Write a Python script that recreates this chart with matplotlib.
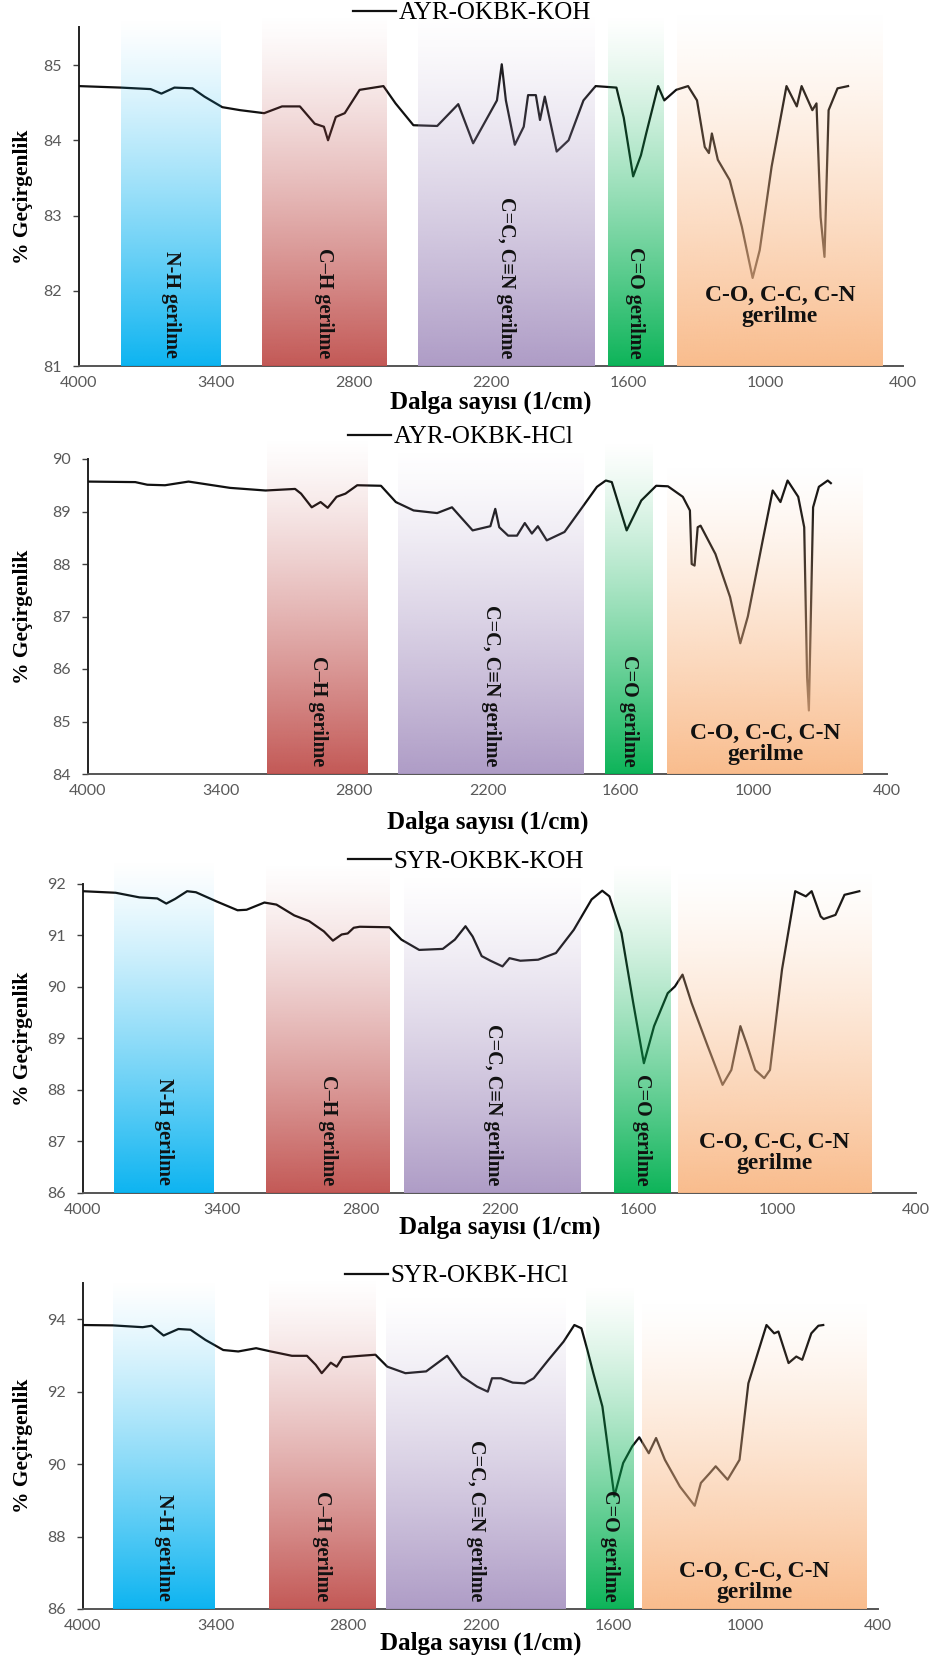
import numpy as np
import matplotlib
matplotlib.use("Agg")
import matplotlib.pyplot as plt
from matplotlib.colors import to_rgb

# ---------------- FTIR spectra (wavenumber in 1/cm, transmittance %) ----------------
wn1 = [4000, 3817, 3687, 3640, 3583, 3504, 3452, 3374, 3296, 3191, 3113, 3035, 2970, 2930,
       2912, 2878, 2839, 2774, 2670, 2617, 2539, 2435, 2343, 2278, 2174, 2153, 2135, 2096,
       2057, 2038, 2004, 1986, 1965, 1913, 1861, 1796, 1743, 1652, 1620, 1579, 1545, 1522,
       1470, 1443, 1391, 1339, 1300, 1266, 1248, 1235, 1209, 1157, 1104, 1057, 1026, 974,
       909, 864, 843, 796, 778, 760, 743, 725, 686, 640]
tr1 = [84.72, 84.70, 84.68, 84.62, 84.70, 84.69, 84.58, 84.44, 84.40, 84.36, 84.45, 84.45,
       84.22, 84.18, 84.00, 84.31, 84.36, 84.67, 84.72, 84.49, 84.20, 84.19, 84.48, 83.96,
       84.53, 85.01, 84.53, 83.94, 84.18, 84.60, 84.60, 84.27, 84.58, 83.85, 84.00, 84.53,
       84.72, 84.70, 84.30, 83.52, 83.80, 84.09, 84.72, 84.53, 84.67, 84.72, 84.53, 83.91,
       83.83, 84.09, 83.74, 83.47, 82.85, 82.17, 82.54, 83.65, 84.72, 84.45, 84.72, 84.40,
       84.49, 82.98, 82.45, 84.40, 84.69, 84.72]

wn2 = [4000, 3787, 3733, 3653, 3547, 3360, 3200, 3067, 3040, 2992, 2952, 2920, 2880, 2840,
       2787, 2680, 2613, 2533, 2427, 2360, 2320, 2267, 2187, 2165, 2147, 2107, 2067, 2032,
       2000, 1973, 1933, 1853, 1773, 1707, 1667, 1640, 1573, 1507, 1440, 1387, 1320, 1288,
       1280, 1267, 1253, 1240, 1173, 1107, 1061, 1027, 960, 915, 880, 848, 800, 773, 760,
       752, 733, 707, 667, 653]
tr2 = [89.57, 89.56, 89.51, 89.50, 89.57, 89.45, 89.40, 89.43, 89.34, 89.08, 89.18, 89.07,
       89.28, 89.34, 89.50, 89.49, 89.18, 89.02, 88.97, 89.08, 88.89, 88.64, 88.72, 89.05,
       88.70, 88.54, 88.54, 88.78, 88.58, 88.72, 88.45, 88.61, 89.08, 89.47, 89.59, 89.56,
       88.64, 89.21, 89.49, 89.48, 89.28, 89.02, 88.00, 87.97, 88.70, 88.73, 88.19, 87.37,
       86.49, 87.00, 88.45, 89.40, 89.18, 89.59, 89.28, 88.70, 85.84, 85.21, 89.08, 89.47,
       89.59, 89.54]

wn3 = [4000, 3859, 3756, 3679, 3640, 3602, 3550, 3512, 3422, 3332, 3293, 3216, 3164, 3087,
       3023, 2959, 2920, 2882, 2856, 2830, 2804, 2676, 2624, 2547, 2445, 2393, 2347, 2316,
       2277, 2239, 2187, 2157, 2110, 2033, 1956, 1879, 1802, 1756, 1725, 1673, 1622, 1576,
       1532, 1473, 1442, 1409, 1370, 1300, 1236, 1198, 1159, 1133, 1095, 1056, 1031, 979,
       922, 876, 851, 812, 799, 748, 709, 645]
tr3 = [91.86, 91.83, 91.74, 91.72, 91.62, 91.71, 91.86, 91.84, 91.66, 91.49, 91.50, 91.64,
       91.60, 91.39, 91.28, 91.08, 90.90, 91.02, 91.04, 91.15, 91.17, 91.16, 90.92, 90.72,
       90.74, 90.92, 91.18, 90.98, 90.60, 90.51, 90.40, 90.56, 90.51, 90.53, 90.66, 91.11,
       91.70, 91.87, 91.76, 91.05, 89.69, 88.52, 89.24, 89.88, 90.01, 90.24, 89.69, 88.85,
       88.10, 88.39, 89.24, 88.91, 88.39, 88.23, 88.39, 90.34, 91.86, 91.76, 91.86, 91.37,
       91.32, 91.40, 91.79, 91.86]

wn4 = [4000, 3865, 3730, 3689, 3635, 3568, 3513, 3446, 3365, 3297, 3216, 3149, 3054, 2986,
       2946, 2919, 2878, 2851, 2824, 2743, 2676, 2622, 2540, 2446, 2351, 2284, 2216, 2167,
       2148, 2108, 2054, 2000, 1959, 1892, 1824, 1775, 1743, 1716, 1689, 1648, 1594, 1554,
       1513, 1481, 1438, 1405, 1365, 1297, 1230, 1202, 1162, 1135, 1081, 1027, 987, 905,
       870, 851, 805, 770, 743, 702, 670, 648]
tr4 = [93.84, 93.83, 93.78, 93.82, 93.55, 93.73, 93.71, 93.43, 93.15, 93.11, 93.20, 93.11,
       92.99, 92.99, 92.74, 92.51, 92.80, 92.69, 92.95, 92.99, 93.02, 92.69, 92.51, 92.56,
       92.99, 92.42, 92.14, 92.00, 92.37, 92.37, 92.25, 92.23, 92.37, 92.88, 93.38, 93.84,
       93.75, 93.15, 92.51, 91.59, 89.11, 90.03, 90.49, 90.74, 90.30, 90.72, 90.12, 89.38,
       88.85, 89.48, 89.75, 89.94, 89.57, 90.12, 92.23, 93.84, 93.61, 93.66, 92.79, 92.97,
       92.88, 93.61, 93.82, 93.84]

sample_names = ["AYR-OKBK-KOH", "AYR-OKBK-HCl", "SYR-OKBK-KOH", "SYR-OKBK-HCl"]

# ---------------- functional-group regions (wavenumber ranges, 1/cm) ----------------
band_keys = ["NH", "CH", "CC", "CO", "fp"]
band_labels = {"NH": "N-H gerilme", "CH": "C\u2013H gerilme", "CC": "C=C, C\u2261N gerilme",
               "CO": "C=O gerilme", "fp": "C-O, C-C, C-N\ngerilme"}
band_colors = {"NH": "#00B0F0", "CH": "#C0504D", "CC": "#AA97C3", "CO": "#00B050", "fp": "#F9B987"}

bands1 = {"NH": (3815, 3380), "CH": (3200, 2657), "CC": (2521, 1749), "CO": (1691, 1450), "fp": (1388, 488)}
bands2 = {"CH": (3192, 2739), "CC": (2603, 1768), "CO": (1672, 1456), "fp": (1389, 507)}
bands3 = {"NH": (3864, 3434), "CH": (3208, 2676), "CC": (2612, 1848), "CO": (1704, 1460), "fp": (1429, 593)}
bands4 = {"NH": (3865, 3405), "CH": (3157, 2676), "CC": (2627, 1816), "CO": (1721, 1508), "fp": (1467, 451)}

# upper end of each coloured region (in % units, regions fade out upwards)
band_tops1 = {"NH": 85.64, "CH": 85.69, "CC": 85.70, "CO": 85.69, "fp": 85.73}
band_tops2 = {"CH": 90.42, "CC": 90.20, "CO": 90.38, "fp": 89.90}
band_tops3 = {"NH": 92.49, "CH": 92.44, "CC": 92.21, "CO": 92.44, "fp": 92.28}
band_tops4 = {"NH": 95.13, "CH": 95.18, "CC": 94.72, "CO": 95.00, "fp": 94.53}

y_limits = [(81, 85.5), (84, 90), (86, 92), (86, 95)]
y_steps = [1, 1, 1, 2]
x_ticks = [4000, 3400, 2800, 2200, 1600, 1000, 400]

# ---------------- layout (pixel frames on a 935 x 1657 canvas) ----------------
W, H = 935, 1657
frames = [(79, 903, 366, 27.4), (88, 887, 774, 459), (83, 916, 1193, 884), (83, 878, 1609, 1283)]
legend_centers = [(472, 13), (461, 437), (466, 862), (457, 1276)]
xlabel_y = [402, 822, 1227, 1643]
fp_label_lift = [60, 30, 40, 27]   # px above the x axis for the fingerprint-region caption

serif = ["Liberation Serif", "DejaVu Serif"]
tick_font = ["Lato", "DejaVu Sans"]

plt.rcParams["font.family"] = serif

fig = plt.figure(figsize=(W / 100, H / 100), dpi=100)

spectra = [(wn1, tr1), (wn2, tr2), (wn3, tr3), (wn4, tr4)]
band_sets = [bands1, bands2, bands3, bands4]
band_top_sets = [band_tops1, band_tops2, band_tops3, band_tops4]

shade = np.linspace(0.0, 1.0, 256)  # 0 at top, 1 at bottom


def gradient(color):
    """Translucent colour ramp: clear at the top, nearly opaque at the bottom."""
    c = np.array(to_rgb(color))
    img = np.zeros((shade.size, 1, 4))
    img[:, 0, :3] = c
    img[:, 0, 3] = 0.95 * shade ** 1.25
    return img


for i in range(4):
    x0, x1, yb, yt = frames[i]
    ax = fig.add_axes([x0 / W, 1 - yb / H, (x1 - x0) / W, (yb - yt) / H])
    ylo, yhi = y_limits[i]

    wn, tr = spectra[i]
    ax.plot(wn, tr, color="#111111", lw=1.6, zorder=3, label=sample_names[i])

    # shaded functional-group regions, laid over the spectrum
    for key in band_keys:
        if key not in band_sets[i]:
            continue
        hi_wn, lo_wn = band_sets[i][key]
        top = band_top_sets[i][key]
        ax.imshow(gradient(band_colors[key]), extent=(hi_wn, lo_wn, ylo, top),
                  origin="upper", aspect="auto", interpolation="bilinear",
                  zorder=4, clip_on=False)
        xc = 0.5 * (hi_wn + lo_wn)
        if key == "fp":
            ax.annotate(band_labels[key], xy=(xc, 0), xycoords=("data", "axes fraction"),
                        xytext=(0, fp_label_lift[i] * 0.72), textcoords="offset points",
                        ha="center", va="center", fontsize=17, fontweight="bold",
                        linespacing=1.0, color="#111111", zorder=6, family=serif)
        else:
            ax.annotate(band_labels[key], xy=(xc, 0), xycoords=("data", "axes fraction"),
                        xytext=(0, 5.5), textcoords="offset points", rotation=-90,
                        ha="center", va="bottom", fontsize=14.5, fontweight="bold",
                        color="#111111", zorder=6, family=serif)

    ax.set_xlim(4000, 400)
    ax.set_ylim(ylo, yhi)
    ax.set_xticks(x_ticks)
    yt_vals = np.arange(ylo, yhi + 0.01, y_steps[i])
    ax.set_yticks(yt_vals)
    ax.set_yticklabels([f"{v:g}" for v in yt_vals])
    ax.tick_params(axis="both", labelsize=11.5, labelcolor="#595959")
    ax.tick_params(axis="x", length=0, pad=7)
    ax.tick_params(axis="y", length=4.5, width=1.0, color="#404040", direction="out", pad=8)
    for lab in ax.get_xticklabels() + ax.get_yticklabels():
        lab.set_family(tick_font)

    for side in ("top", "right"):
        ax.spines[side].set_visible(False)
    ax.spines["left"].set_color("#222222")
    ax.spines["bottom"].set_color("#555555")
    ax.spines["left"].set_linewidth(1.4)
    ax.spines["bottom"].set_linewidth(1.4)
    ax.set_facecolor("none")

    ax.set_ylabel("% Geçirgenlik", fontsize=15.5, fontweight="bold", va="center")
    ax.yaxis.set_label_coords((23 - x0) / (x1 - x0), 0.5)
    ax.set_xlabel("Dalga sayısı (1/cm)", fontsize=18, fontweight="bold", va="center")
    ax.xaxis.set_label_coords(0.5, -(xlabel_y[i] - yb) / (yb - yt))

    lx, ly = legend_centers[i]
    ax.legend(loc="center", bbox_to_anchor=(lx / W, 1 - ly / H), bbox_transform=fig.transFigure,
              frameon=False, fontsize=18, handlelength=1.7, handletextpad=0.12,
              borderpad=0, borderaxespad=0)

fig.savefig("out.png", dpi=100)
